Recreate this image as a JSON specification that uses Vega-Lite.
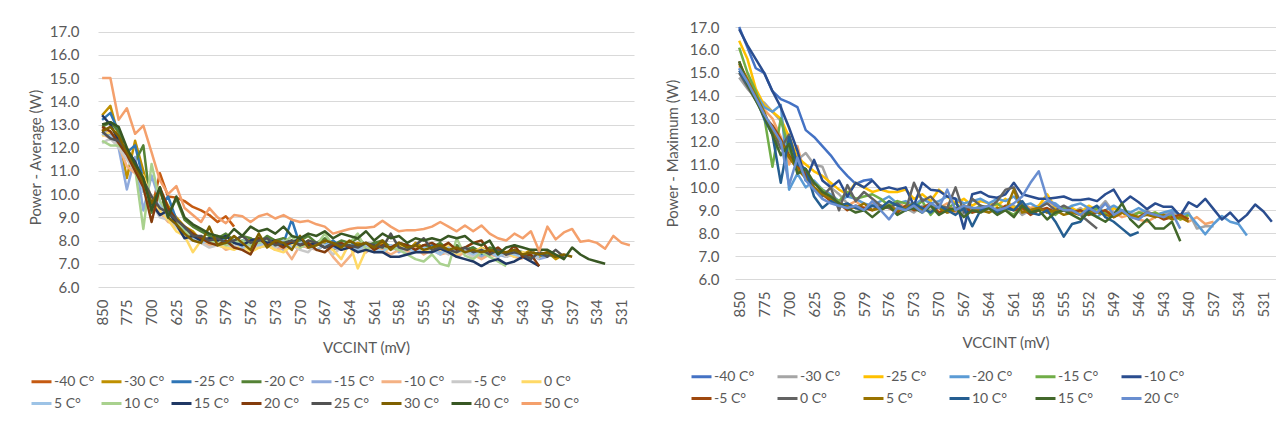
{
  "$schema": "https://vega.github.io/schema/vega-lite/v6.json",
  "background": "white",
  "padding": {"left": 28, "top": 20, "right": 0, "bottom": 0},
  "bounds": "flush",
  "spacing": 101,
  "config": {
    "font": "Lato",
    "view": {"stroke": null},
    "axis": {"labelFont": "Lato", "titleFont": "Lato", "labelFontSize": 15, "titleFontSize": 15, "labelColor": "#595959", "titleColor": "#595959", "titleFontWeight": "normal", "gridColor": "#D9D9D9", "gridWidth": 1, "domain": false, "ticks": false, "tickSize": 0},
    "legend": {"labelFont": "Lato", "labelFontSize": 14, "labelColor": "#595959", "orient": "none", "direction": "horizontal", "symbolType": "stroke", "symbolSize": 400, "symbolStrokeWidth": 3, "labelOffset": 1, "rowPadding": 3, "gridAlign": "all", "padding": 0, "labelLimit": 120}
  },
  "datasets": {
    "avg": [
      {"s": "-40 C°", "v": [850,825,800,775,750,725,700,675,650,625,610,600,590,585,582,579,578,577,576,575,574,573,572,571,570,569,568,567,566,565,564,563,562,561,560,559,558,557,556,555,554,553,552,551,550,549,548,547,546,545,544,543,542,541,540,539,538,537,536,535,534,533,532,531,530], "p": [12.8,12.5,12.2,11.8,11.1,10.3,9.3,10.9,9.9,9.85,9.7,9.45,9.3,9.1,8.8,9.05,8.6]},
      {"s": "-30 C°", "v": [850,825,800,775,750,725,700,675,650,625,610,600,590,585,582,579,578,577,576,575,574,573,572,571,570,569,568,567,566,565,564,563,562,561,560,559,558,557,556,555,554,553,552,551,550,549,548,547,546,545,544,543,542,541,540,539,538,537,536,535,534,533,532,531,530], "p": [13.4,13.8,12.5,10.7,12.3,11.0,9.6,10.2,9.5,9.0,8.6,8.4,8.0,8.1,8.2,7.9,8.0,7.8,8.1,7.9,8.0,7.8,8.1,7.9,7.7,8.0,7.8,7.9,7.6,7.8,7.7,7.9,7.8,7.6,7.9,7.7,7.8,7.5,7.9,7.7,7.6,7.8,7.5,7.7,7.6,7.4,7.7,7.5,7.6,7.3,7.5,7.4,7.6,7.3,7.5,7.2,7.4]},
      {"s": "-25 C°", "v": [850,825,800,775,750,725,700,675,650,625,610,600,590,585,582,579,578,577,576,575,574,573,572,571,570,569,568,567,566,565,564,563,562,561,560,559,558,557,556,555,554,553,552,551,550,549,548,547,546,545,544,543,542,541,540,539,538,537,536,535,534,533,532,531,530], "p": [13.2,13.5,12.7,11.8,12.1,10.6,9.7,9.4,9.9,8.9,8.5,8.2,8.1,7.9,8.1,8.0,7.8,8.0,7.9,8.0,8.1,8.0,7.9,8.9,7.8,7.7,7.9,7.8,8.0,7.7,7.9,7.8,7.6,7.9,7.7,7.8,7.6,7.8,7.7,7.5,7.8,7.6,7.7,7.5,7.6,7.7,7.4,7.6,7.5,7.4,7.6,7.3,7.5,7.4,7.3]},
      {"s": "-20 C°", "v": [850,825,800,775,750,725,700,675,650,625,610,600,590,585,582,579,578,577,576,575,574,573,572,571,570,569,568,567,566,565,564,563,562,561,560,559,558,557,556,555,554,553,552,551,550,549,548,547,546,545,544,543,542,541,540,539,538,537,536,535,534,533,532,531,530], "p": [12.9,13.1,12.7,11.9,11.4,12.1,9.2,10.2,9.1,9.8,8.9,8.6,8.4,8.2,8.1,8.3,8.0,8.2,8.1,7.9,8.2,8.0,8.1,7.9,8.0,8.2,7.9,8.1,7.8,8.0,7.9,8.1,7.8,7.9,8.0,7.7,7.9,7.8,7.6,7.8,7.7,7.9,7.6,7.8,7.6,7.7,7.5,7.7,7.6,7.4,7.6,7.5,7.3,7.5,7.4,7.3]},
      {"s": "-15 C°", "v": [850,825,800,775,750,725,700,675,650,625,610,600,590,585,582,579,578,577,576,575,574,573,572,571,570,569,568,567,566,565,564,563,562,561,560,559,558,557,556,555,554,553,552,551,550,549,548,547,546,545,544,543,542,541,540,539,538,537,536,535,534,533,532,531,530], "p": [12.7,12.6,12.0,10.2,11.6,9.3,10.8,9.7,9.0,8.6,8.3,8.1,8.0,7.8,7.9,8.0,7.7,7.9,7.8,7.7,7.9,7.8,7.6,7.8,7.7,7.9,7.6,7.8,7.7,7.6,7.8,7.7,7.5,7.7,7.6,7.8,7.5,7.7,7.6,7.5,7.7,7.5,7.6,7.4,7.6,7.5,7.3,7.5,7.4,7.3,7.5,7.3,7.4,7.2,7.3]},
      {"s": "-10 C°", "v": [850,825,800,775,750,725,700,675,650,625,610,600,590,585,582,579,578,577,576,575,574,573,572,571,570,569,568,567,566,565,564,563,562,561,560,559,558,557,556,555,554,553,552,551,550,549,548,547,546,545,544,543,542,541,540,539,538,537,536,535,534,533,532,531,530], "p": [12.6,12.4,12.1,11.2,10.9,10.5,9.9,9.2,8.8,8.7,8.3,8.1,7.9,7.8,7.9,7.6,7.7,7.8,7.6,7.7,7.8,7.6,7.7,7.2,7.8,7.7,7.6,7.8,7.3,6.9,7.3,7.7,7.5,7.8,7.6,7.4,7.6,7.5,7.7,7.4,7.6,7.4,7.5,7.3,7.5,7.4,7.2,7.4,7.3,7.5,7.3,7.2]},
      {"s": "-5 C°", "v": [850,825,800,775,750,725,700,675,650,625,610,600,590,585,582,579,578,577,576,575,574,573,572,571,570,569,568,567,566,565,564,563,562,561,560,559,558,557,556,555,554,553,552,551,550,549,548,547,546,545,544,543,542,541,540,539,538,537,536,535,534,533,532,531,530], "p": [12.2,12.4,12.0,11.5,11.0,10.4,9.6,9.0,8.9,8.6,8.2,8.0,7.9,7.7,7.8,7.7,7.8,7.6,7.8,7.7,7.8,7.7,7.9,7.8,7.6,7.5,7.9,7.8,7.4,7.7,7.8,7.6,7.7,7.5,7.8,7.6,7.7,7.4,7.6,7.7,7.5,7.6,7.4,7.6,7.5,7.3,7.5,7.4,7.6,7.3,7.4,7.3,7.5,7.2]},
      {"s": "0  C°", "v": [850,825,800,775,750,725,700,675,650,625,610,600,590,585,582,579,578,577,576,575,574,573,572,571,570,569,568,567,566,565,564,563,562,561,560,559,558,557,556,555,554,553,552,551,550,549,548,547,546,545,544,543,542,541,540,539,538,537,536,535,534,533,532,531,530], "p": [12.5,12.7,12.3,12.0,11.0,10.8,9.8,9.3,8.9,8.4,8.2,7.5,8.0,7.9,7.8,7.7,7.6,7.8,7.5,7.7,7.8,7.6,7.5,7.8,7.7,7.9,7.6,7.8,7.6,7.2,7.9,6.8,7.6,7.8,7.5,7.7,7.9,7.6,7.8,7.5,7.7,7.6,7.8,7.4,7.6,7.5,7.7,7.4,7.6,7.5,7.3,7.5,7.4]},
      {"s": "5 C°", "v": [850,825,800,775,750,725,700,675,650,625,610,600,590,585,582,579,578,577,576,575,574,573,572,571,570,569,568,567,566,565,564,563,562,561,560,559,558,557,556,555,554,553,552,551,550,549,548,547,546,545,544,543,542,541,540,539,538,537,536,535,534,533,532,531,530], "p": [12.6,12.5,12.2,11.7,11.2,10.1,9.9,9.5,9.0,8.7,8.3,8.1,7.9,8.0,7.8,7.9,8.0,7.7,7.9,7.8,7.9,7.8,8.0,7.7,7.9,7.8,7.6,7.8,7.9,7.7,7.8,7.6,7.8,7.7,7.5,7.8,7.6,7.7,7.5,7.7,7.6,7.4,7.7,7.5,7.6,7.4,7.6,7.5,7.3,7.5,7.4,7.3,7.5,7.3]},
      {"s": "10 C°", "v": [850,825,800,775,750,725,700,675,650,625,610,600,590,585,582,579,578,577,576,575,574,573,572,571,570,569,568,567,566,565,564,563,562,561,560,559,558,557,556,555,554,553,552,551,550,549,548,547,546,545,544,543,542,541,540,539,538,537,536,535,534,533,532,531,530], "p": [12.3,12.1,12.1,11.8,11.1,8.5,11.3,9.7,9.2,8.8,8.4,8.2,8.1,7.9,8.0,7.8,7.9,8.0,7.8,7.9,8.0,7.8,7.9,8.2,7.7,7.9,7.8,8.3,7.8,7.7,7.9,8.3,7.6,7.8,7.7,7.7,7.6,7.4,7.2,7.1,7.4,7.0,6.9,8.1,7.35,7.2,7.5,7.3,7.1,6.9]},
      {"s": "15 C°", "v": [850,825,800,775,750,725,700,675,650,625,610,600,590,585,582,579,578,577,576,575,574,573,572,571,570,569,568,567,566,565,564,563,562,561,560,559,558,557,556,555,554,553,552,551,550,549,548,547,546,545,544,543,542,541,540,539,538,537,536,535,534,533,532,531,530], "p": [13.4,13.0,12.3,11.9,11.4,10.6,9.6,9.1,9.3,8.7,8.1,8.2,8.0,8.1,8.0,8.2,7.9,7.8,8.0,8.1,7.9,8.0,7.8,7.9,8.1,7.8,7.9,7.7,7.8,7.6,7.7,7.5,7.6,7.5,7.5,7.3,7.3,7.4,7.5,7.5,7.5,7.65,7.5,7.3,7.2,7.1,6.9,7.1,7.2,7.0,7.1,7.3,7.1,6.9]},
      {"s": "20 C°", "v": [850,825,800,775,750,725,700,675,650,625,610,600,590,585,582,579,578,577,576,575,574,573,572,571,570,569,568,567,566,565,564,563,562,561,560,559,558,557,556,555,554,553,552,551,550,549,548,547,546,545,544,543,542,541,540,539,538,537,536,535,534,533,532,531,530], "p": [12.9,12.7,12.2,11.7,11.0,10.3,8.8,10.3,9.4,8.9,8.6,8.3,8.1,7.9,7.8,8.0,7.7,7.6,7.4,8.1,7.8,7.9,7.7,8.0,7.8,7.9,7.6,7.5,7.8,7.9,7.7,7.8,7.9,7.6,7.8,7.7,7.9,7.8,7.6,7.8,7.9,7.7,7.9,7.6,7.7,7.9,8.0,7.5,7.7,7.4,7.8,7.3,7.4,6.9]},
      {"s": "25 C°", "v": [850,825,800,775,750,725,700,675,650,625,610,600,590,585,582,579,578,577,576,575,574,573,572,571,570,569,568,567,566,565,564,563,562,561,560,559,558,557,556,555,554,553,552,551,550,549,548,547,546,545,544,543,542,541,540,539,538,537,536,535,534,533,532,531,530], "p": [12.7,12.4,12.3,11.9,11.3,10.6,9.9,9.4,9.2,8.9,8.6,8.2,8.2,8.0,8.1,7.9,8.0,8.2,7.9,8.0,8.1,7.8,7.9,8.0,7.8,8.0,7.9,7.7,7.9,7.8,7.8,7.7,7.9,7.8,7.7,8.3,7.7,7.6,7.8,8.1,7.6,7.7,7.6,7.5,7.7,7.5,7.6,7.4,7.6,7.4,7.5,7.4,7.2,7.5,7.3,7.6,7.3]},
      {"s": "30 C°", "v": [850,825,800,775,750,725,700,675,650,625,610,600,590,585,582,579,578,577,576,575,574,573,572,571,570,569,568,567,566,565,564,563,562,561,560,559,558,557,556,555,554,553,552,551,550,549,548,547,546,545,544,543,542,541,540,539,538,537,536,535,534,533,532,531,530], "p": [12.7,12.9,12.5,11.8,11.2,10.5,9.6,10.2,9.0,8.7,8.3,8.0,7.9,8.6,7.8,7.9,8.2,7.9,7.6,8.3,7.7,8.0,7.9,7.6,8.2,7.7,7.8,8.0,7.9,7.7,8.0,7.8,7.9,7.7,8.0,7.6,7.9,7.7,7.8,7.6,7.7,7.8,7.6,7.7,7.5,7.6,7.5,7.6,7.5,7.5,7.6,7.4,7.5,7.4,7.5,7.3,7.4,7.3]},
      {"s": "40 C°", "v": [850,825,800,775,750,725,700,675,650,625,610,600,590,585,582,579,578,577,576,575,574,573,572,571,570,569,568,567,566,565,564,563,562,561,560,559,558,557,556,555,554,553,552,551,550,549,548,547,546,545,544,543,542,541,540,539,538,537,536,535,534,533,532,531,530], "p": [13.0,13.1,12.9,12.0,11.3,10.7,9.3,10.3,9.0,9.9,9.0,8.7,8.5,8.3,8.2,8.1,8.5,8.2,8.6,8.4,8.5,8.3,8.6,8.2,8.1,8.3,8.2,8.4,8.1,8.3,8.2,8.1,8.4,8.0,8.3,8.1,8.2,7.9,8.1,8.0,8.1,8.0,8.2,8.1,8.2,7.9,7.8,8.0,7.4,7.7,7.8,7.7,7.6,7.6,7.6,7.4,7.2,7.7,7.4,7.2,7.1,7.0]},
      {"s": "50 C°", "v": [850,825,800,775,750,725,700,675,650,625,610,600,590,585,582,579,578,577,576,575,574,573,572,571,570,569,568,567,566,565,564,563,562,561,560,559,558,557,556,555,554,553,552,551,550,549,548,547,546,545,544,543,542,541,540,539,538,537,536,535,534,533,532,531,530], "p": [15.0,15.0,13.2,13.7,12.6,12.95,11.8,10.6,10.0,10.35,9.4,9.1,8.8,9.4,9.0,8.75,9.1,9.05,8.8,9.05,9.15,8.95,9.1,8.9,8.8,8.85,8.7,8.6,8.3,8.4,8.5,8.55,8.55,8.6,8.85,8.6,8.4,8.45,8.45,8.5,8.6,8.8,8.6,8.4,8.65,8.4,8.65,8.3,8.1,8.0,8.3,8.1,8.4,7.55,8.6,8.05,8.35,8.5,7.95,8.0,7.9,7.65,8.2,7.9,7.8]}
    ],
    "max": [
      {"s": "(no legend)", "v": [850,825,800,775,750,725,700,675,650,625,610,600,590,585,582,579,578,577,576,575,574,573,572,571,570,569,568,567,566,565,564,563,562,561,560,559,558,557,556,555,554,553,552,551,550,549,548,547,546,545,544,543,542,541,540,539,538,537,536,535,534,533,532,531,530], "p": [15.3,14.8,14.0,13.4,13.0,12.2,11.0,11.8,10.4,10.0,9.7,9.5,9.3,9.2,9.4,9.1,9.3,9.0,9.2,9.4,9.1,9.3,9.0,9.2,9.1,9.3,8.9,9.2,9.0,9.1,9.2,9.3,9.1,9.0,9.3,9.1,9.2,9.4,9.2,9.0,8.9,8.8,8.9,9.0,8.8,8.9,8.7,8.8,8.6,8.5,8.7,8.8,8.9,8.7,8.5,8.7,8.4,8.5]},
      {"s": "-40 C°", "v": [850,825,800,775,750,725,700,675,650,625,610,600,590,585,582,579,578,577,576,575,574,573,572,571,570,569,568,567,566,565,564,563,562,561,560,559,558,557,556,555,554,553,552,551,550,549,548,547,546,545,544,543,542,541,540,539,538,537,536,535,534,533,532,531,530], "p": [17.0,16.1,15.2,15.0,14.2,13.85,13.7,13.5,12.5,12.2,11.8,11.4,10.9,10.5,10.15,10.3,10.35]},
      {"s": "-30 C°", "v": [850,825,800,775,750,725,700,675,650,625,610,600,590,585,582,579,578,577,576,575,574,573,572,571,570,569,568,567,566,565,564,563,562,561,560,559,558,557,556,555,554,553,552,551,550,549,548,547,546,545,544,543,542,541,540,539,538,537,536,535,534,533,532,531,530], "p": [14.8,14.3,13.9,13.7,13.3,12.9,12.0,11.2,11.5,11.0,10.9,10.0,9.7,9.3,9.1,9.0,9.2,9.1,9.3,9.0,9.1,8.9,9.2,9.0,9.3,8.9,9.1,8.8,9.0,9.2,8.9,9.1,9.0,9.2,8.8,9.0,9.1,8.9,9.2,9.0,8.9,9.1,8.8,9.0,9.4,8.9,9.0,8.8,8.9,9.0,8.7,8.8,8.9,8.8,8.9,8.2,8.3,8.3]},
      {"s": "-25 C°", "v": [850,825,800,775,750,725,700,675,650,625,610,600,590,585,582,579,578,577,576,575,574,573,572,571,570,569,568,567,566,565,564,563,562,561,560,559,558,557,556,555,554,553,552,551,550,549,548,547,546,545,544,543,542,541,540,539,538,537,536,535,534,533,532,531,530], "p": [16.4,15.6,14.3,13.6,13.3,13.0,12.2,11.3,11.0,10.7,10.5,10.2,9.9,9.7,10.2,10.0,9.8,9.9,9.8,9.8,9.9,9.5,9.7,9.4,9.9,9.6,9.3,9.5,9.2,9.4,9.3,9.2,9.5,9.1,9.3,9.0,9.2,9.7,9.1,9.0,9.1,8.9,9.2,9.0,8.8,9.1,8.9,8.7,8.9,8.8,8.9,8.7,8.8,8.6,8.7]},
      {"s": "-20 C°", "v": [850,825,800,775,750,725,700,675,650,625,610,600,590,585,582,579,578,577,576,575,574,573,572,571,570,569,568,567,566,565,564,563,562,561,560,559,558,557,556,555,554,553,552,551,550,549,548,547,546,545,544,543,542,541,540,539,538,537,536,535,534,533,532,531,530], "p": [15.2,14.7,14.1,13.5,13.3,13.6,9.9,10.6,10.0,10.3,9.9,9.7,9.4,9.6,9.5,9.3,9.2,9.4,9.6,9.3,9.4,9.2,9.5,9.3,9.4,9.6,9.5,9.3,9.4,9.5,9.3,9.5,9.4,9.6,9.2,9.3,9.1,9.4,9.3,9.0,9.2,9.3,9.1,8.7,9.0,9.2,9.0,8.9,9.1,8.9,8.8,8.9,9.0,8.8,8.85,8.4,7.95,8.4,8.75,8.5,8.4,7.9]},
      {"s": "-15 C°", "v": [850,825,800,775,750,725,700,675,650,625,610,600,590,585,582,579,578,577,576,575,574,573,572,571,570,569,568,567,566,565,564,563,562,561,560,559,558,557,556,555,554,553,552,551,550,549,548,547,546,545,544,543,542,541,540,539,538,537,536,535,534,533,532,531,530], "p": [16.1,15.0,14.2,13.1,10.9,13.0,11.6,11.0,10.5,10.2,9.9,9.6,9.4,9.8,9.5,9.6,9.7,9.5,9.2,9.4,9.3,9.1,9.4,8.8,9.2,9.1,9.3,9.0,8.9,9.2,9.1,9.3,9.0,8.8,9.2,8.9,9.1,9.0,8.8,9.1,8.9,9.0,8.8,9.1,8.9,8.8,9.0,8.7,8.9,8.8,8.9,8.7,8.8,8.6,8.8]},
      {"s": "-10 C°", "v": [850,825,800,775,750,725,700,675,650,625,610,600,590,585,582,579,578,577,576,575,574,573,572,571,570,569,568,567,566,565,564,563,562,561,560,559,558,557,556,555,554,553,552,551,550,549,548,547,546,545,544,543,542,541,540,539,538,537,536,535,534,533,532,531,530], "p": [16.9,16.2,15.6,15.0,14.2,13.5,12.6,11.6,10.3,11.2,10.3,10.0,10.3,9.6,10.2,10.0,10.3,9.9,10.0,9.9,10.0,9.2,10.2,9.9,9.85,9.6,9.5,8.2,9.7,9.8,9.6,9.55,9.7,10.2,9.7,9.6,9.5,9.5,9.55,9.6,9.45,9.45,9.5,9.4,9.7,9.9,9.3,9.6,9.35,9.05,9.3,9.15,9.15,8.75,9.35,9.15,9.5,9.05,8.6,8.9,8.5,8.8,9.25,8.95,8.5]},
      {"s": "-5 C°", "v": [850,825,800,775,750,725,700,675,650,625,610,600,590,585,582,579,578,577,576,575,574,573,572,571,570,569,568,567,566,565,564,563,562,561,560,559,558,557,556,555,554,553,552,551,550,549,548,547,546,545,544,543,542,541,540,539,538,537,536,535,534,533,532,531,530], "p": [15.5,14.6,13.9,13.1,12.7,12.1,11.4,10.9,10.6,9.9,9.7,9.4,9.3,9.0,9.2,9.1,9.0,9.2,9.1,8.9,9.2,9.0,9.1,9.3,8.9,9.1,9.0,9.2,8.9,9.0,9.1,8.9,9.2,9.0,9.1,8.8,9.0,9.1,8.9,9.0,8.9,9.0,8.8,8.9,9.0,8.7,8.9,8.8,8.7,8.9,8.8,8.6,8.7,8.8,8.6]},
      {"s": "0  C°", "v": [850,825,800,775,750,725,700,675,650,625,610,600,590,585,582,579,578,577,576,575,574,573,572,571,570,569,568,567,566,565,564,563,562,561,560,559,558,557,556,555,554,553,552,551,550,549,548,547,546,545,544,543,542,541,540,539,538,537,536,535,534,533,532,531,530], "p": [15.0,14.4,13.8,13.2,12.5,11.7,12.3,11.0,10.8,10.0,9.6,10.0,9.0,10.1,9.4,9.8,9.5,9.2,9.1,9.3,9.0,10.2,9.4,9.6,9.2,9.1,10.0,8.9,9.5,9.2,9.1,9.4,9.9,10.0,9.2,9.0,9.1,9.3,9.0,9.2,9.0,8.8,8.5,8.2]},
      {"s": "5 C°", "v": [850,825,800,775,750,725,700,675,650,625,610,600,590,585,582,579,578,577,576,575,574,573,572,571,570,569,568,567,566,565,564,563,562,561,560,559,558,557,556,555,554,553,552,551,550,549,548,547,546,545,544,543,542,541,540,539,538,537,536,535,534,533,532,531,530], "p": [15.4,14.7,14.0,13.3,12.4,12.0,11.3,10.8,10.4,10.0,9.7,9.5,9.3,9.2,9.1,9.3,9.0,9.1,9.2,9.0,9.1,9.3,9.0,9.2,9.1,8.9,9.0,9.2,9.1,9.0,8.9,9.1,9.0,9.9,8.9,9.0,9.1,8.9,9.0,8.8,8.9,8.8,9.0,8.9,8.8,8.7,8.9,8.8,8.7,8.8,8.7,8.8,8.6,8.7,8.5]},
      {"s": "10 C°", "v": [850,825,800,775,750,725,700,675,650,625,610,600,590,585,582,579,578,577,576,575,574,573,572,571,570,569,568,567,566,565,564,563,562,561,560,559,558,557,556,555,554,553,552,551,550,549,548,547,546,545,544,543,542,541,540,539,538,537,536,535,534,533,532,531,530], "p": [15.1,14.5,13.9,13.0,12.3,10.2,12.2,11.0,10.8,9.6,9.1,9.4,9.2,9.3,9.1,9.0,9.2,9.1,9.4,9.2,9.0,9.3,9.1,8.9,9.2,9.0,8.8,9.1,8.3,9.0,9.2,8.9,9.1,9.0,9.4,8.9,8.8,9.0,8.5,7.85,8.4,8.5,9.0,9.2,8.7,8.5,8.2,7.9,8.05]},
      {"s": "15 C°", "v": [850,825,800,775,750,725,700,675,650,625,610,600,590,585,582,579,578,577,576,575,574,573,572,571,570,569,568,567,566,565,564,563,562,561,560,559,558,557,556,555,554,553,552,551,550,549,548,547,546,545,544,543,542,541,540,539,538,537,536,535,534,533,532,531,530], "p": [15.5,14.5,13.8,13.1,12.3,11.4,11.9,10.6,10.8,10.2,9.8,9.6,9.3,9.1,8.9,9.0,8.7,9.0,9.2,8.8,9.0,9.1,8.9,9.2,8.8,9.0,9.1,8.7,9.0,8.9,9.1,8.8,9.0,8.7,9.2,8.9,9.0,8.6,8.9,9.0,8.8,8.6,8.9,8.7,8.5,8.8,9.3,8.6,8.25,8.6,8.2,8.2,8.5,7.65]},
      {"s": "20 C°", "v": [850,825,800,775,750,725,700,675,650,625,610,600,590,585,582,579,578,577,576,575,574,573,572,571,570,569,568,567,566,565,564,563,562,561,560,559,558,557,556,555,554,553,552,551,550,549,548,547,546,545,544,543,542,541,540,539,538,537,536,535,534,533,532,531,530], "p": [15.2,14.6,13.9,13.2,12.6,12.0,10.1,11.3,10.3,9.9,9.5,9.3,9.2,9.1,9.2,9.0,9.4,9.0,8.6,9.1,9.0,9.2,8.9,9.3,9.1,9.9,9.0,9.2,9.1,9.1,9.2,9.0,9.1,9.3,9.6,10.2,10.7,9.5,9.2,9.0,9.0,8.8,9.1,8.9,9.3,8.8,9.0,8.7,8.6,8.9,8.8,8.7,8.9,8.2]}
    ]
  },
  "hconcat": [
    {
      "width": 536,
      "height": 260,
      "data": {"name": "avg"},
      "transform": [{"flatten": ["v", "p"]}, {"filter": "isValid(datum.p)"}],
      "mark": {"type": "line", "strokeWidth": 2.5, "strokeJoin": "round"},
      "encoding": {
        "x": {"field": "v", "type": "ordinal",
          "scale": {"domain": [850,825,800,775,750,725,700,675,650,625,610,600,590,585,582,579,578,577,576,575,574,573,572,571,570,569,568,567,566,565,564,563,562,561,560,559,558,557,556,555,554,553,552,551,550,549,548,547,546,545,544,543,542,541,540,539,538,537,536,535,534,533,532,531,530], "padding": 0.5},
          "axis": {"values": [850,775,700,625,590,579,576,573,570,567,564,561,558,555,552,549,546,543,540,537,534,531], "labelAngle": -90, "title": "VCCINT (mV)", "labelPadding": 12, "titlePadding": 15, "grid": false}},
        "y": {"field": "p", "type": "quantitative",
          "scale": {"domain": [6, 17.2], "nice": false, "zero": false},
          "axis": {"values": [6,7,8,9,10,11,12,13,14,15,16,17], "format": ".1f", "title": "Power - Average (W)", "labelPadding": 19, "titlePadding": 6}},
        "color": {"field": "s", "type": "nominal",
          "scale": {"domain": ["-40 C°","-30 C°","-25 C°","-20 C°","-15 C°","-10 C°","-5 C°","0  C°","5 C°","10 C°","15 C°","20 C°","25 C°","30 C°","40 C°","50 C°"],
                    "range": ["#C55A11","#BF9000","#2E75B6","#548235","#8FAADC","#F4B183","#C9C9C9","#FFD966","#9DC3E6","#A9D18E","#203864","#843C0C","#525252","#7F6000","#385723","#F4A06C"]},
          "legend": {"title": null, "columns": 8, "legendX": -68, "legendY": 343, "columnPadding": 0}}
      }
    },
    {
      "width": 541,
      "height": 252,
      "data": {"name": "max"},
      "transform": [{"flatten": ["v", "p"]}, {"filter": "isValid(datum.p)"}],
      "mark": {"type": "line", "strokeWidth": 2.5, "strokeJoin": "round"},
      "encoding": {
        "x": {"field": "v", "type": "ordinal",
          "scale": {"domain": [850,825,800,775,750,725,700,675,650,625,610,600,590,585,582,579,578,577,576,575,574,573,572,571,570,569,568,567,566,565,564,563,562,561,560,559,558,557,556,555,554,553,552,551,550,549,548,547,546,545,544,543,542,541,540,539,538,537,536,535,534,533,532,531,530], "padding": 0.5},
          "axis": {"values": [850,775,700,625,590,579,576,573,570,567,564,561,558,555,552,549,546,543,540,537,534,531], "labelAngle": -90, "title": "VCCINT (mV)", "labelPadding": 12, "titlePadding": 18, "grid": false}},
        "y": {"field": "p", "type": "quantitative",
          "scale": {"domain": [6, 17], "nice": false, "zero": false},
          "axis": {"values": [6,7,8,9,10,11,12,13,14,15,16,17], "format": ".1f", "title": "Power - Maximum (W)", "labelPadding": 16, "titlePadding": 9}},
        "color": {"field": "s", "type": "nominal",
          "scale": {"domain": ["-40 C°","-30 C°","-25 C°","-20 C°","-15 C°","-10 C°","-5 C°","0  C°","5 C°","10 C°","15 C°","20 C°","(no legend)"],
                    "range": ["#4472C4","#A5A5A5","#FFC000","#5B9BD5","#70AD47","#2A4D8F","#9E480E","#636363","#997300","#255E91","#43682B","#698ED0","#F4A46A"]},
          "legend": {"title": null, "columns": 6, "legendX": -45, "legendY": 338, "columnPadding": 16, "values": ["-40 C°","-30 C°","-25 C°","-20 C°","-15 C°","-10 C°","-5 C°","0  C°","5 C°","10 C°","15 C°","20 C°"]}}
      }
    }
  ],
  "resolve": {"scale": {"color": "independent", "x": "independent", "y": "independent"}}
}
